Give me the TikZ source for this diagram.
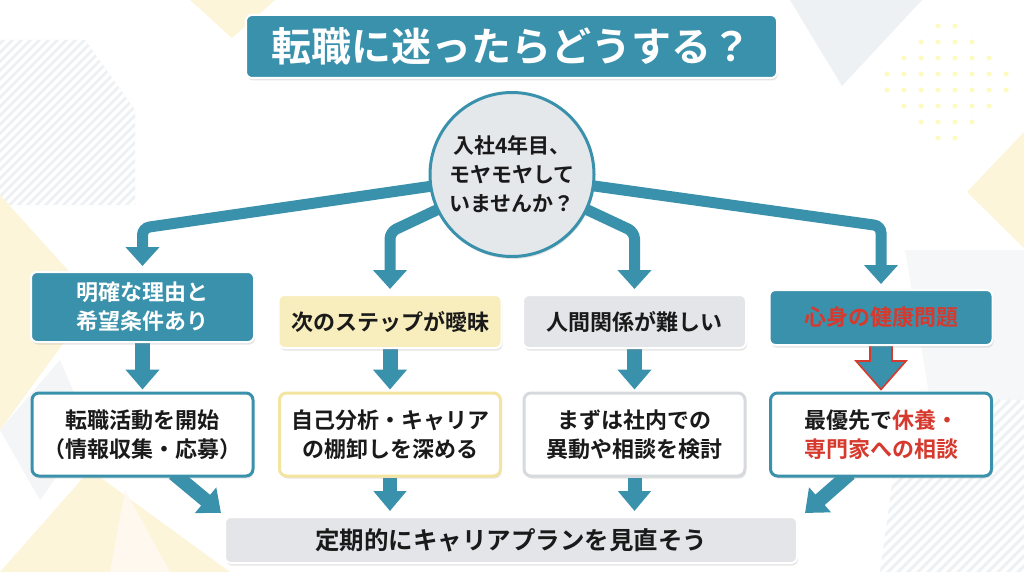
\documentclass[tikz,border=0pt]{standalone}
\usepackage{fontspec}
\setmainfont{Noto Sans CJK JP}[BoldFont={Noto Sans CJK JP Bold}]
\usetikzlibrary{arrows.meta,calc,shadows}
\definecolor{tealA}{RGB}{58,145,172}
\definecolor{redA}{RGB}{214,58,46}
\definecolor{yelFill}{RGB}{248,237,188}
\definecolor{yelLine}{RGB}{243,228,160}
\definecolor{grayFill}{RGB}{227,229,232}
\definecolor{grayLine}{RGB}{214,217,221}
\definecolor{circFill}{RGB}{229,232,235}
\definecolor{txt}{RGB}{26,26,26}
\definecolor{bgYel}{RGB}{252,245,218}
\definecolor{bgGray}{RGB}{238,241,244}
\pgfdeclarelayer{bg}
\pgfdeclarelayer{arr}
\pgfsetlayers{bg,arr,main}
\tikzset{
  shad/.style={drop shadow={opacity=0.2,shadow xshift=1pt,shadow yshift=-2.5pt}},
  topbox/.style={rounded corners=6pt,minimum width=223pt,align=center,inner sep=0pt,
     font=\bfseries\fontsize{22}{29}\selectfont,draw=white,line width=2pt,shad},
  lowbox/.style={rounded corners=7pt,minimum width=221pt,minimum height=83pt,align=center,inner sep=0pt,
     font=\bfseries\fontsize{22}{29}\selectfont,fill=white,line width=3pt,text=txt,shad},
  arrC/.style={draw=tealA,line width=11pt,rounded corners=7pt,-{Triangle[width=33pt,length=19pt]},shorten >=5pt},
  arrM/.style={draw=tealA,line width=15pt,-{Triangle[width=33pt,length=20pt]}},
  arrB/.style={draw=tealA,line width=14pt,-{Triangle[width=32pt,length=20pt]}},
}
\begin{document}
\begin{tikzpicture}[x=1pt,y=-1pt]
\useasboundingbox (0,0) rectangle (1024,572);
% ---------- background decoration ----------
\begin{pgfonlayer}{bg}
\fill[white] (0,0) rectangle (1024,572);
\fill[bgYel] (190,0) -- (275,0) -- (232,38) -- cycle;
\fill[bgGray] (0,40) -- (85,40) -- (135,110) -- (135,205) -- (0,205) -- cycle;
\begin{scope}
\clip (0,40) -- (85,40) -- (135,110) -- (135,205) -- (0,205) -- cycle;
\foreach \i in {-30,...,40} {\draw[white,line width=3.5pt] (\i*9,210) -- (\i*9+180,30);}
\end{scope}
\fill[bgYel] (0,195) -- (95,300) -- (0,430) -- cycle;
\fill[bgGray!70] (0,430) -- (60,360) -- (90,430) -- (40,500) -- cycle;
\fill[bgYel] (0,572) -- (90,470) -- (230,572) -- cycle;
\fill[bgYel!80!orange!20] (110,572) -- (125,490) -- (170,572) -- cycle;
\fill[bgGray] (790,0) -- (922,0) -- (842,86) -- cycle;
\begin{scope}
\clip (945,8) -- (1022,82) -- (945,155) -- (868,82) -- cycle;
\foreach \r in {0,...,9} {\foreach \c in {0,...,9} {
  \fill[bgYel!70!yellow!60] (870+\c*17,10+\r*16) circle (2.6pt);}}
\end{scope}
\fill[bgYel] (967,192) -- (1024,132) -- (1024,248) -- cycle;
\fill[bgGray!60] (905,250) -- (1024,250) -- (1024,400) -- (930,400) -- cycle;
\begin{scope}
\clip (905,390) -- (1024,380) -- (1024,572) -- (880,572) -- cycle;
\foreach \i in {-30,...,30} {\draw[bgGray,line width=3pt] (\i*10+850,600) -- (\i*10+1050,400);}
\end{scope}
\end{pgfonlayer}
% ---------- nodes ----------
\node[fill=tealA,draw=white,line width=2pt,rounded corners=6pt,minimum width=531pt,minimum height=63pt,
  text=white,font=\bfseries\fontsize{40}{44}\selectfont,shad] (title) at (511.5,46.5) {転職に迷ったらどうする？};
\node[circle,fill=circFill,draw=tealA,line width=3pt,minimum size=164pt,inner sep=0pt,align=center,
  text=txt,font=\bfseries\fontsize{21}{29}\selectfont,shad] (circ) at (512,174.5) {入社4年目、\\モヤモヤして\\いませんか？};
\node[topbox,fill=tealA,text=white,minimum height=70pt] (A) at (142.5,307) {明確な理由と\\希望条件あり};
\node[topbox,fill=yelFill,text=txt,minimum height=53pt] (B) at (390,321.5) {次のステップが曖昧};
\node[topbox,fill=grayFill,text=txt,minimum height=53pt] (C) at (634.5,321.5) {人間関係が難しい};
\node[topbox,fill=tealA,text=redA,minimum height=55pt] (D) at (881,317.5) {心身の健康問題};
\node[lowbox,draw=tealA] (A2) at (142.5,434.5) {転職活動を開始\\（情報収集・応募）};
\node[lowbox,draw=yelLine] (B2) at (390,434.5) {自己分析・キャリア\\の棚卸しを深める};
\node[lowbox,draw=grayLine] (C2) at (634.5,434.5) {まずは社内での\\異動や相談を検討};
\node[lowbox,draw=tealA] (D2) at (881,434.5) {最優先で\textcolor{redA}{休養・}\\\textcolor{redA}{専門家への相談}};
\node[rounded corners=6pt,fill=grayFill,draw=white,line width=2pt,minimum width=572pt,minimum height=46pt,
  text=txt,font=\bfseries\fontsize{24.5}{28}\selectfont,shad] (bot) at (511,540) {定期的にキャリアプランを見直そう};
% ---------- connectors ----------
\begin{pgfonlayer}{arr}
\draw[arrC] (circ.center) -- (A.north |- 0,228) -- (A.north);
\draw[arrC] (circ.center) -- (B.north |- 0,232) -- (B.north);
\draw[arrC] (circ.center) -- (C.north |- 0,232) -- (C.north);
\draw[arrC] (circ.center) -- (D.north |- 0,226) -- (D.north);
\draw[arrM,shorten >=2pt] (A) -- (A2);
\draw[arrM,shorten >=2pt] (B) -- (B2);
\draw[arrM,shorten >=2pt] (C) -- (C2);
\draw[fill=tealA,draw=redA,line width=1.6pt,line join=miter]
  ([xshift=-11pt,yshift=4pt]D.south) -- ([xshift=-11pt,yshift=-15pt]D.south)
  -- ([xshift=-25pt,yshift=-15pt]D.south) -- ([yshift=2pt]D2.north)
  -- ([xshift=25pt,yshift=-15pt]D.south) -- ([xshift=11pt,yshift=-15pt]D.south)
  -- ([xshift=11pt,yshift=4pt]D.south);
\draw[arrB] ([xshift=31pt,yshift=4pt]A2.south) -- ([xshift=-3pt,yshift=3pt]bot.north west);
\draw[arrB,shorten >=5pt] (B2.south) -- (B2.south |- bot.north);
\draw[arrB,shorten >=5pt] (C2.south) -- (C2.south |- bot.north);
\draw[arrB] ([xshift=-31pt,yshift=4pt]D2.south) -- ([xshift=7pt,yshift=3pt]bot.north east);
\end{pgfonlayer}
\end{tikzpicture}
\end{document}
